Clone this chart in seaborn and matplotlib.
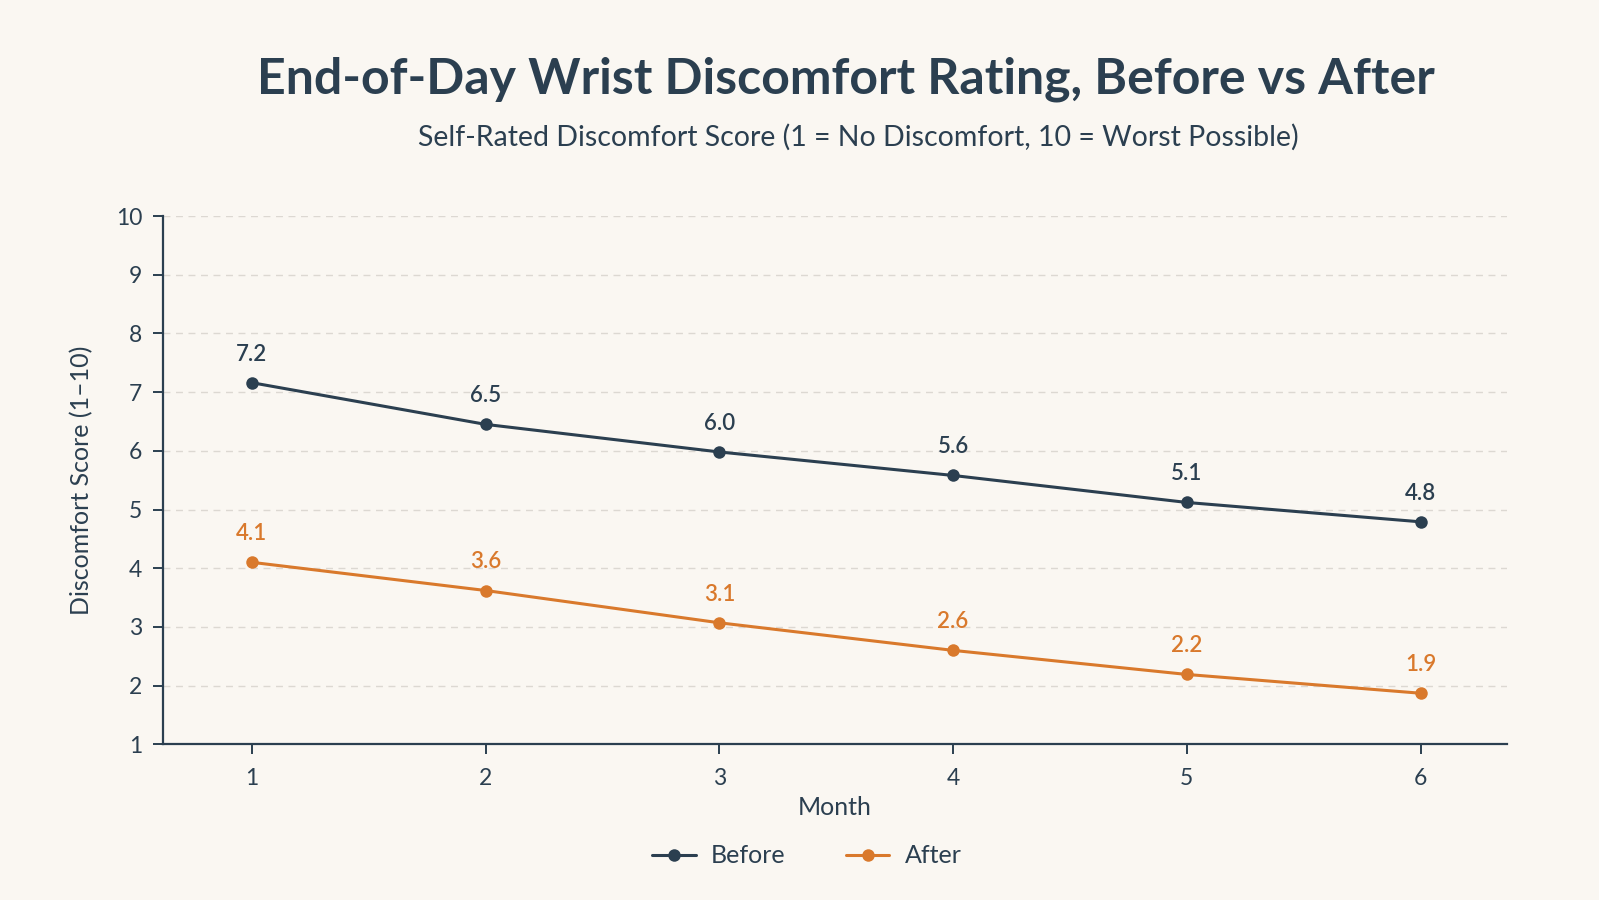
import matplotlib
matplotlib.use("Agg")
import matplotlib.pyplot as plt
import seaborn as sns
import pandas as pd

months = [1, 2, 3, 4, 5, 6]
before = [7.16, 6.45, 5.98, 5.58, 5.12, 4.79]
after = [4.1, 3.62, 3.07, 2.6, 2.19, 1.87]
before_labels = ["7.2", "6.5", "6.0", "5.6", "5.1", "4.8"]
after_labels = ["4.1", "3.6", "3.1", "2.6", "2.2", "1.9"]
series_names = ["Before", "After"]
y_ticks = [1, 2, 3, 4, 5, 6, 7, 8, 9, 10]

NAVY = "#2b3f50"
ORANGE = "#d9792c"
BG = "#faf7f2"
GRID = "#dcd8d2"

sns.set_theme(style="white")
plt.rcParams["font.family"] = ["Lato", "DejaVu Sans"]

df = pd.DataFrame({
    "Month": months * 2,
    "Score": before + after,
    "Series": [series_names[0]] * len(months) + [series_names[1]] * len(months),
})

fig = plt.figure(figsize=(15.99, 9.0), dpi=100, facecolor=BG)
ax = fig.add_axes([0.102, 0.173, 0.8405, 0.587])
ax.set_facecolor(BG)

sns.lineplot(data=df, x="Month", y="Score", hue="Series",
             palette={"Before": NAVY, "After": ORANGE},
             marker="o", markersize=9, markeredgewidth=0, linewidth=2.2,
             ax=ax, legend=True)

for xs, ys, labs, col in [(months, before, before_labels, NAVY),
                          (months, after, after_labels, ORANGE)]:
    for x, y, l in zip(xs, ys, labs):
        ax.annotate(l, (x, y), xytext=(0, 13), textcoords="offset points",
                    ha="center", va="bottom", fontsize=16, color=col,
                    fontweight="semibold")

ax.set_xlim(0.62, 6.37)
ax.set_ylim(1, 10)
ax.set_yticks(y_ticks)
ax.set_xticks(months)
ax.yaxis.grid(True, color=GRID, linestyle=(0, (5, 4)), linewidth=1)
ax.xaxis.grid(False)
ax.set_axisbelow(True)

for s in ["top", "right"]:
    ax.spines[s].set_visible(False)
for s in ["left", "bottom"]:
    ax.spines[s].set_color(NAVY)
    ax.spines[s].set_linewidth(1.6)

ax.tick_params(axis="both", colors=NAVY, labelsize=16.5, length=7, width=1.4,
               direction="out", bottom=True, left=True, pad=8)
ax.tick_params(axis="x", pad=10)

ax.set_xlabel("Month", fontsize=18, color=NAVY, labelpad=5)
ax.set_ylabel("Discomfort Score (1\u201310)", fontsize=18, color=NAVY, labelpad=16)

handles, labels = ax.get_legend_handles_labels()
leg = ax.legend(handles, labels, loc="upper center", bbox_to_anchor=(0.479, -0.147),
                ncol=2, frameon=False, fontsize=18, handlelength=1.75,
                columnspacing=2.4, handletextpad=0.6)
for t in leg.get_texts():
    t.set_color(NAVY)

fig.text(0.529, 0.912, "End-of-Day Wrist Discomfort Rating, Before vs After",
         ha="center", va="center", fontsize=36, fontweight="bold", color=NAVY)
fig.text(0.537, 0.847, "Self-Rated Discomfort Score (1 = No Discomfort, 10 = Worst Possible)",
         ha="center", va="center", fontsize=20.5, color=NAVY)

fig.savefig("out.png", dpi=100, facecolor=BG)
